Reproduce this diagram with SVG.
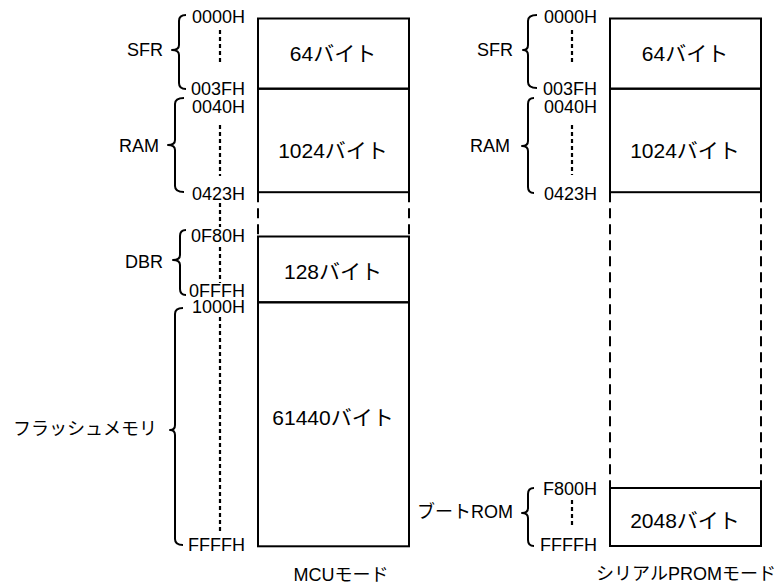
<svg xmlns="http://www.w3.org/2000/svg" width="784" height="585" viewBox="0 0 784 585">
<style>
text{font-family:"Liberation Sans","Noto Sans CJK JP",Arial,sans-serif;fill:#000}
.a{font-size:18px;text-anchor:end}
.r{font-size:18px;text-anchor:end}
.b{font-size:21px;text-anchor:middle}
.t{font-size:18px;text-anchor:middle}
.box{fill:none;stroke:#000;stroke-width:2}
.dash{fill:none;stroke:#000;stroke-width:2;stroke-dasharray:10 6}
.dot{fill:none;stroke:#000;stroke-width:2.2;stroke-dasharray:4 3}
.br{fill:none;stroke:#000;stroke-width:2;stroke-linejoin:round}
</style>
<rect width="784" height="585" fill="#fff"/>
<g id="mcu-map">
<g id="mcu-sfr"><rect class="box" x="258" y="18.5" width="151" height="70.2"/><text class="b" x="333" y="61">64バイト</text></g>
<g id="mcu-ram"><rect class="box" x="258" y="88.7" width="151" height="103.5"/><text class="b" x="333" y="158">1024バイト</text></g>
<g id="mcu-gap"><path class="dash" d="M258,192.2V236.5M409,192.2V236.5"/></g>
<g id="mcu-dbr"><rect class="box" x="258" y="236.5" width="151" height="65.8"/><text class="b" x="333" y="279">128バイト</text></g>
<g id="mcu-flash"><rect class="box" x="258" y="302.3" width="151" height="244"/><text class="b" x="333" y="425">61440バイト</text></g>
<text class="t" x="341" y="581">MCUモード</text>
</g>
<g id="prom-map">
<g id="prom-sfr"><rect class="box" x="610" y="18.5" width="151" height="70.2"/><text class="b" x="685" y="61">64バイト</text></g>
<g id="prom-ram"><rect class="box" x="610" y="88.7" width="151" height="103.5"/><text class="b" x="685" y="158">1024バイト</text></g>
<g id="prom-gap"><path class="dash" d="M610,192.2V488M761,192.2V488"/></g>
<g id="prom-boot"><rect class="box" x="610" y="488" width="151" height="58"/><text class="b" x="685" y="528">2048バイト</text></g>
<text class="t" x="686" y="580">シリアルPROMモード</text>
</g>
<g id="mcu-labels">
<g id="l-sfr"><path class="br" d="M186,15Q179,15 179,21V45Q179,50 172,50Q179,50 179,55V83Q179,89 186,89"/><text class="r" x="163" y="56">SFR</text></g>
<g id="l-ram"><path class="br" d="M184,98Q175,98 175,104V140Q175,145 168,145Q175,145 175,150V186Q175,192 184,192"/><text class="r" x="159" y="152">RAM</text></g>
<g id="l-dbr"><path class="br" d="M186,230Q180,230 180,236V255Q180,260 173,260Q180,260 180,265V289Q180,295 186,295"/><text class="r" x="163" y="268">DBR</text></g>
<g id="l-flash"><path class="br" d="M183,308Q175,308 175,314V425Q175,430 170,430Q175,430 175,435V539Q175,545 183,545"/><text class="r" x="157" y="435">フラッシュメモリ</text></g>
<text class="a" x="245" y="23">0000H</text>
<text class="a" x="245" y="95">003FH</text>
<text class="a" x="245" y="113">0040H</text>
<text class="a" x="245" y="200">0423H</text>
<text class="a" x="245" y="242">0F80H</text>
<text class="a" x="245" y="297">0FFFH</text>
<text class="a" x="245" y="313">1000H</text>
<text class="a" x="245" y="551">FFFFH</text>
</g>
<g id="prom-labels">
<g id="r-sfr"><path class="br" d="M537,15Q528,15 528,21V45Q528,50 523,50Q528,50 528,55V82Q528,88 537,88"/><text class="r" x="513" y="56">SFR</text></g>
<g id="r-ram"><path class="br" d="M534,98Q528,98 528,104V141Q528,146 522,146Q528,146 528,151V187Q528,193 534,193"/><text class="r" x="510" y="152">RAM</text></g>
<g id="r-boot"><path class="br" d="M534,488Q528,488 528,494V508Q528,513 522,513Q528,513 528,518V540Q528,546 534,546"/><text class="r" x="513" y="518">ブートROM</text></g>
<text class="a" x="597" y="23">0000H</text>
<text class="a" x="597" y="95">003FH</text>
<text class="a" x="597" y="113">0040H</text>
<text class="a" x="597" y="200">0423H</text>
<text class="a" x="597" y="495">F800H</text>
<text class="a" x="597" y="551">FFFFH</text>
</g>
<g id="connectors">
<path class="dot" d="M220,30V65M220,125V176M220,203V227M220,247V283M220,317V531"/>
<path class="dot" d="M572,30V65M572,125V175M572,500V527"/>
</g>
</svg>
